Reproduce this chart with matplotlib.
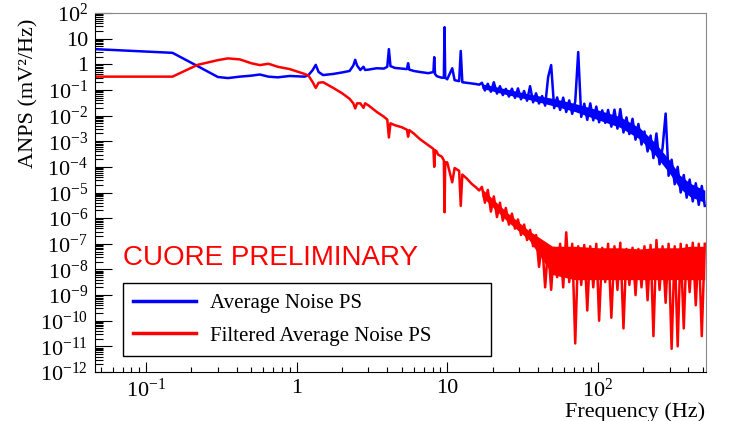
import matplotlib
matplotlib.use('Agg')
import matplotlib.pyplot as plt
from matplotlib.ticker import FixedLocator, FixedFormatter, LogLocator, NullFormatter

# Frequencies (Hz), low part with the resonance lines
f_lo = [0.046, 0.15, 0.22, 0.30, 0.35, 0.42, 0.50, 0.57, 0.65, 0.75,
        0.90, 1.13, 1.20, 1.28, 1.34, 1.40, 1.50, 1.75, 2.0, 2.25,
        2.38, 2.45, 2.52, 2.65, 2.78, 2.85, 3.0, 3.4, 3.8, 4.0,
        4.1, 4.2, 4.5, 5.0, 5.4, 5.5, 5.6, 6.0, 6.6, 7.5,
        8.1, 8.2, 8.3, 8.5, 8.7, 9.2, 9.5, 9.6, 9.7, 10.0,
        10.8, 11.2, 12.0, 12.3, 12.6, 13.5, 14.5, 15.5, 16.3]

# Frequencies (Hz), high part where the spectra are noisy
f_hi = [17.0, 17.8, 18.6, 19.5, 20.4, 21.4, 22.4, 23.4, 24.5, 25.7,
        26.9, 28.2, 29.5, 30.9, 32.4, 33.9, 35.5, 37.2, 38.9, 40.7,
        42.7, 44.7, 46.8, 49.0, 51.3, 53.7, 56.2, 58.9, 61.7, 64.6,
        67.6, 70.8, 74.1, 77.6, 81.3, 85.1, 89.1, 93.3, 97.7, 102,
        107, 112, 117, 123, 129, 135, 141, 148, 155, 162,
        170, 178, 186, 195, 204, 214, 224, 234, 245, 257,
        269, 282, 295, 309, 324, 339, 355, 372, 389, 407,
        427, 447, 468, 490, 513]

# Average noise power spectrum (mV^2/Hz)
blue_lo = [3.9, 2.8, 0.85, 0.32, 0.29, 0.33, 0.36, 0.40, 0.33, 0.31,
           0.35, 0.33, 0.38, 0.6, 0.95, 0.5, 0.38, 0.42, 0.48, 0.55,
           0.9, 1.5, 0.9, 0.6, 0.8, 0.6, 0.62, 0.7, 0.68, 0.8,
           3.9, 0.85, 0.72, 0.68, 0.65, 1.1, 0.62, 0.55, 0.5, 0.45,
           0.5, 1.9, 0.42, 0.35, 0.33, 0.3, 0.3, 28, 0.3, 0.26,
           0.7, 0.24, 0.22, 3.3, 0.2, 0.19, 0.18, 0.17, 0.16]

blue_hi = [0.19, 0.095, 0.174, 0.085, 0.2, 0.072, 0.14, 0.063, 0.11, 0.055,
           0.112, 0.049, 0.115, 0.043, 0.091, 0.038, 0.14, 0.033, 0.074, 0.0295,
           0.058, 0.0245, 0.32, 0.93, 0.0195, 0.051, 0.0166, 0.05, 0.0138, 0.039,
           0.0117, 0.035, 3.0, 0.0089, 0.029, 0.0068, 0.03, 0.0065, 0.0224, 0.0055,
           0.016, 0.0052, 0.0166, 0.0037, 0.017, 0.0031, 0.0178, 0.0022, 0.0085, 0.0019,
           0.0075, 0.00115, 0.0047, 7.4e-4, 0.0024, 4e-4, 0.00166, 2.2e-4, 0.002, 1.26e-4,
           5.4e-4, 0.012, 4.5e-5, 1.9e-4, 2.1e-5, 1e-4, 1e-5, 4.8e-5, 6.3e-6, 3.2e-5,
           4.5e-6, 2.3e-5, 3.3e-6, 1.8e-5, 3e-6]

# Filtered average noise power spectrum (mV^2/Hz)
red_lo = [0.33, 0.33, 0.95, 1.45, 1.7, 1.55, 1.1, 0.93, 1.05, 0.8,
          0.65, 0.42, 0.36, 0.2, 0.12, 0.19, 0.2, 0.12, 0.075, 0.045,
          0.03, 0.019, 0.03, 0.03, 0.02, 0.03, 0.025, 0.014, 0.009, 0.007,
          0.0014, 0.005, 0.0042, 0.0035, 0.0028, 0.0015, 0.0027, 0.002, 0.0012, 7e-4,
          5e-4, 1e-4, 4.5e-4, 4e-4, 3e-4, 2.5e-4, 1.8e-4, 1.7e-6, 1.5e-4, 1.5e-4,
          2.5e-5, 9e-5, 7e-5, 3e-6, 5e-5, 3.5e-5, 2.2e-5, 1.6e-5, 1.2e-5]

red_hi = [1.66e-5, 4e-6, 1.26e-5, 1.8e-6, 7e-6, 1.1e-6, 4e-6, 8e-7, 2.5e-6, 5.6e-7,
          1.5e-6, 3.9e-7, 8.9e-7, 2.2e-7, 5.6e-7, 1.4e-7, 3.5e-7, 8e-8, 2.2e-7, 1.26e-8,
          1.1e-7, 2e-9, 8e-8, 1.6e-9, 7e-8, 5e-9, 1e-7, 2e-9, 2.8e-7, 3.2e-9,
          1e-7, 1.3e-11, 8e-8, 2.5e-9, 9e-8, 2.5e-10, 8e-8, 2e-9, 1e-7, 1e-10,
          7e-8, 3.2e-9, 1e-7, 1.3e-10, 8e-8, 1.6e-9, 1.1e-7, 5e-11, 6.3e-8, 2.5e-9,
          7e-8, 1e-9, 6.3e-8, 2e-9, 8e-8, 6.3e-10, 9e-8, 2.5e-11, 1.4e-7, 1.6e-9,
          8e-8, 5e-10, 1e-7, 8e-12, 8e-8, 1e-11, 1e-7, 5e-11, 9e-8, 1.3e-9,
          1.1e-7, 4e-10, 1e-7, 2.5e-11, 1e-7]

# Dense core of the noise bands (mV^2/Hz)
band_f = [17, 25, 35, 50, 70, 100, 140, 190, 240, 300, 350, 410, 513]
blue_band_top = [0.174, 0.107, 0.069, 0.047, 0.030, 0.0166, 0.0091, 0.0033, 8.7e-4, 1.8e-4, 4.8e-5, 2.3e-5, 1.23e-5]
blue_band_bot = [0.115, 0.065, 0.042, 0.0245, 0.0145, 0.0069, 0.0035, 0.0012, 2.9e-4, 5.5e-5, 1.45e-5, 6.9e-6, 4.1e-6]
red_band_top = [1.4e-5, 1.66e-6, 3.2e-7, 8e-8, 8e-8, 7e-8, 7e-8, 6.3e-8, 7e-8, 7e-8, 7e-8, 8e-8, 8e-8]
red_band_bot = [7e-6, 7.6e-7, 1.4e-7, 6.3e-9, 4e-9, 4e-9, 4e-9, 4e-9, 4e-9, 4e-9, 4e-9, 4e-9, 4e-9]

# Axis ticks and labels
y_ticks = [1e-12, 1e-11, 1e-10, 1e-9, 1e-8, 1e-7, 1e-6, 1e-5, 1e-4, 1e-3, 1e-2, 1e-1, 1, 10, 100]
y_labels = [r'$\mathregular{10^{-12}}$', r'$\mathregular{10^{-11}}$', r'$\mathregular{10^{-10}}$',
            r'$\mathregular{10^{-9}}$', r'$\mathregular{10^{-8}}$', r'$\mathregular{10^{-7}}$',
            r'$\mathregular{10^{-6}}$', r'$\mathregular{10^{-5}}$', r'$\mathregular{10^{-4}}$',
            r'$\mathregular{10^{-3}}$', r'$\mathregular{10^{-2}}$', r'$\mathregular{10^{-1}}$',
            '1', '10', r'$\mathregular{10^{2}}$']
x_ticks = [0.1, 1, 10, 100]
x_labels = [r'$\mathregular{10^{-1}}$', '1', '10', r'$\mathregular{10^{2}}$']

plt.rcParams['font.family'] = 'Liberation Serif'
plt.rcParams['mathtext.fontset'] = 'custom'
plt.rcParams['mathtext.rm'] = 'Liberation Serif'
plt.rcParams['mathtext.it'] = 'Liberation Serif:italic'

fig = plt.figure(figsize=(7.3, 4.21), dpi=100)
ax = fig.add_axes([0.130, 0.1164, 0.837, 0.8527])

freq = f_lo + f_hi
ax.fill_between(band_f, blue_band_bot, blue_band_top, color='#0000ff', lw=0)
ax.fill_between(band_f, red_band_bot, red_band_top, color='#ff0000', lw=0)
ax.plot(freq, blue_lo + blue_hi, color='#0000ff', lw=1.8, label='Average Noise PS')
ax.plot(freq, red_lo + red_hi, color='#ff0000', lw=1.8, label='Filtered Average Noise PS')

ax.set_xscale('log')
ax.set_yscale('log')
ax.set_xlim(0.0458, 522)
ax.set_ylim(1e-12, 1e2)

ax.yaxis.set_major_locator(FixedLocator(y_ticks))
ax.yaxis.set_major_formatter(FixedFormatter(y_labels))
ax.yaxis.set_minor_locator(LogLocator(base=10, subs=range(2, 10), numticks=100))
ax.yaxis.set_minor_formatter(NullFormatter())
ax.xaxis.set_major_locator(FixedLocator(x_ticks))
ax.xaxis.set_major_formatter(FixedFormatter(x_labels))
ax.xaxis.set_minor_locator(LogLocator(base=10, subs=range(2, 10), numticks=100))
ax.xaxis.set_minor_formatter(NullFormatter())

ax.tick_params(axis='both', which='both', direction='in', top=False, right=False,
               labelsize=16, width=0.8)
ax.tick_params(axis='y', which='major', length=12, pad=5)
ax.tick_params(axis='y', which='minor', length=6)
ax.tick_params(axis='x', which='major', length=7, pad=5)
ax.tick_params(axis='x', which='minor', length=3.6)

# ROOT-like frame: black axes, grey box
for side in ['top', 'right']:
    ax.spines[side].set_color('#888888')
for side in ['left', 'bottom']:
    ax.spines[side].set_color('black')

ax.text(0.0458, 0.3175, 'CUORE PRELIMINARY', transform=ax.transAxes, color='red',
        fontsize=20, family='Liberation Sans', va='center', ha='left')

leg = ax.legend(loc='lower left', bbox_to_anchor=(0.0458, 0.0446, 0.602, 0.19), mode='expand',
                borderaxespad=0, fancybox=False, edgecolor='black', framealpha=1,
                prop={'family': 'Liberation Serif', 'size': 15}, handlelength=3.0,
                handletextpad=0.7, labelspacing=0.6, borderpad=0.5)
leg.get_frame().set_linewidth(1.0)
for line in leg.get_lines():
    line.set_linewidth(2.5)

fig.text(29 / 730, 1 - 93 / 421, 'ANPS (mV²/Hz)', rotation=90, ha='center', va='center',
         fontsize=16)
fig.text(705 / 730, 1 - 412 / 421, 'Frequency (Hz)', ha='right', va='center', fontsize=16)

fig.savefig('out.png', dpi=100)
